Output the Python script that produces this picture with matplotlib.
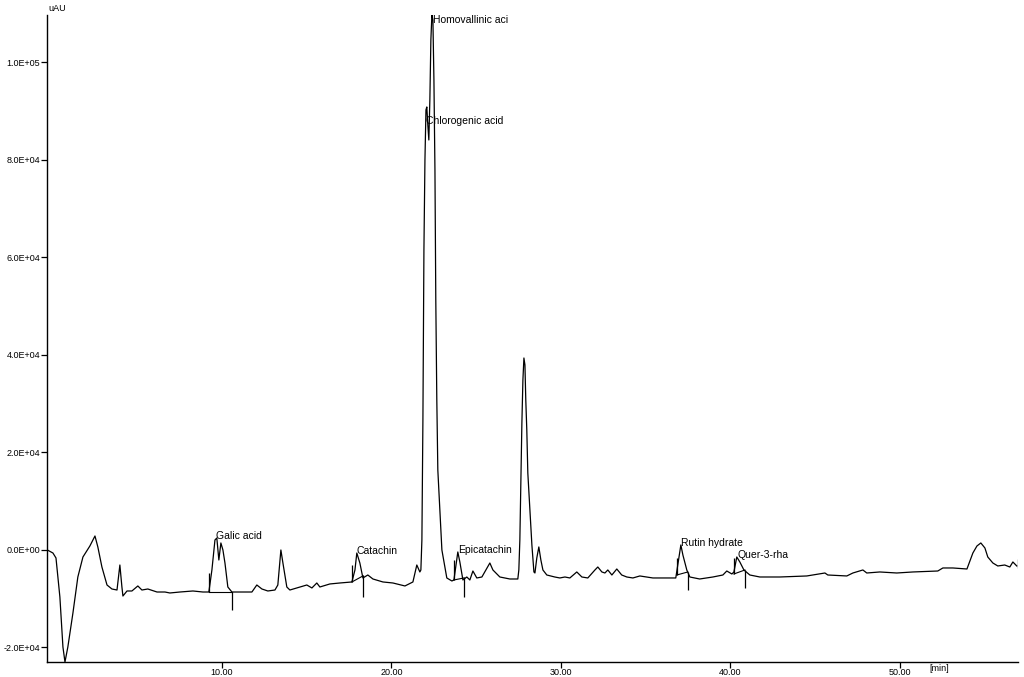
import numpy as np
import matplotlib
matplotlib.use('Agg')
import matplotlib.pyplot as plt
from matplotlib.ticker import FuncFormatter

plt.rcParams['font.family'] = ['Liberation Sans', 'DejaVu Sans']

# chromatogram trace (time in min, signal in uAU)
time_min = [
    -0.30, 0.03, 0.21, 0.44, 0.62, 0.74, 0.91, 1.21, 1.50, 1.80, 2.21, 2.51, 2.68, 2.92, 3.22,
    3.51, 3.81, 3.98, 4.10, 4.16, 4.40, 4.69, 5.04, 5.28, 5.63, 6.17, 6.64, 6.93, 7.52, 8.29,
    8.88, 9.23, 9.41, 9.59, 9.70, 9.82, 9.94, 10.06, 10.18, 10.35, 10.59, 11.06, 11.77, 12.06, 12.36,
    12.71, 13.13, 13.30, 13.48, 13.60, 13.83, 14.01, 14.42, 15.01, 15.31, 15.60, 15.78, 16.37, 16.96, 17.67,
    17.85, 17.96, 18.14, 18.32, 18.61, 18.91, 19.50, 20.09, 20.80, 21.27, 21.50, 21.68, 21.74, 21.80, 21.86,
    21.92, 21.98, 22.04, 22.09, 22.15, 22.21, 22.27, 22.33, 22.39, 22.45, 22.51, 22.57, 22.62, 22.68, 22.74,
    22.86, 22.98, 23.27, 23.57, 23.69, 23.81, 23.92, 24.04, 24.22, 24.45, 24.63, 24.81, 25.04, 25.34, 25.81,
    25.99, 26.40, 26.99, 27.46, 27.52, 27.58, 27.64, 27.70, 27.76, 27.82, 27.88, 27.93, 27.99, 28.05, 28.17,
    28.29, 28.41, 28.47, 28.58, 28.70, 28.82, 28.94, 29.17, 29.64, 29.94, 30.24, 30.53, 30.94, 31.24, 31.59,
    32.01, 32.18, 32.42, 32.60, 32.77, 33.01, 33.30, 33.59, 33.89, 34.25, 34.66, 35.07, 35.43, 35.84, 36.78,
    36.90, 37.08, 37.20, 37.43, 37.61, 38.19, 38.97, 39.56, 39.79, 40.09, 40.21, 40.38, 40.56, 40.80, 41.15,
    41.74, 42.92, 44.51, 45.58, 45.75, 46.87, 47.23, 47.82, 48.05, 48.82, 49.82, 50.77, 52.24, 52.54, 53.13,
    53.96, 54.31, 54.55, 54.78, 55.02, 55.19, 55.49, 55.78, 56.19, 56.49, 56.67, 56.90]
signal_uau = [
    0, -620, -1640, -9640, -19900, -22970, -19900, -12920, -5540, -1440, 820, 2870, 620, -3490, -7180,
    -8000, -8210, -3080, -7590, -9440, -8410, -8410, -7380, -8210, -8000, -8620, -8620, -8820, -8620, -8410,
    -8620, -8620, -4100, 2050, 2460, -2050, 1440, 0, -2670, -7590, -8620, -8620, -8620, -7180, -8000,
    -8410, -8210, -7180, 0, -2670, -7590, -8210, -7790, -7180, -7790, -6770, -7590, -6970, -6770, -6560,
    -4100, -620, -2670, -5740, -5130, -5950, -6560, -6770, -7380, -6560, -3080, -4510, -4100, 2050, 26670,
    61540, 80000, 90260, 90870, 87180, 84100, 92310, 104620, 109740, 108720, 96410, 77950, 51280, 30770, 16410,
    8210, 0, -5740, -6360, -6150, -3080, -410, -2460, -6150, -5540, -6150, -4310, -5740, -5540, -2670,
    -4100, -5540, -5950, -5950, -4100, 2050, 14360, 26050, 34870, 39380, 37950, 30770, 24620, 15800, 8210,
    1030, -4510, -4720, -1640, 620, -2050, -4100, -5130, -5540, -5740, -5540, -5740, -4510, -5540, -5740,
    -4100, -3490, -4510, -4720, -4100, -5130, -3900, -5130, -5540, -5740, -5330, -5540, -5740, -5740, -5740,
    -3080, 1030, -1030, -4100, -5540, -5950, -5540, -5130, -4310, -4920, -4510, -1440, -2460, -4100, -5130,
    -5540, -5540, -5330, -4720, -5130, -5330, -4720, -4100, -4720, -4510, -4720, -4510, -4310, -3690, -3690,
    -3900, -620, 820, 1440, 410, -1440, -2670, -3280, -3080, -3490, -2460, -3280]

# peak names and label anchor points
peak_names = ['Galic acid', 'Catachin', 'Chlorogenic acid', 'Homovallinic aci',
              'Epicatachin', 'Rutin hydrate', 'Quer-3-rha']
label_t = [9.65, 17.96, 22.04, 22.45, 23.92, 37.08, 40.44]
label_v = [2870, -200, 88000, 108700, 0, 1440, -1030]

# integration markers: time, low, high
marker_t = [9.23, 10.59, 17.67, 18.32, 23.69, 24.28, 36.84, 37.49, 40.21, 40.86, 56.98]
marker_lo = [-8620, -12310, -6560, -9640, -6150, -9640, -5130, -8210, -4920, -7790, -3690]
marker_hi = [-4720, -8620, -3080, -5130, -2050, -5540, -1640, -4510, -1640, -4100, -1850]

# baselines under the integrated peaks
base_t0 = [9.23, 17.67, 23.69, 36.84, 40.21]
base_v0 = [-8620, -6560, -6150, -5130, -4920]
base_t1 = [10.59, 18.32, 24.28, 37.49, 40.86]
base_v1 = [-8620, -5330, -5740, -4510, -4100]

yticks = [-20000, 0, 20000, 40000, 60000, 80000, 100000]
xticks = [10, 20, 30, 40, 50]


def sci(v, p):
    if v == 0:
        return '0.0E+00'
    e = int(np.floor(np.log10(abs(v))))
    return '%.1fE%+03d' % (v / 10 ** e, e)


fig = plt.figure(figsize=(10.24, 6.77), dpi=100)
ax = fig.add_axes([0.0459, 0.0222, 0.9482, 0.9557])

ax.plot(time_min, signal_uau, color='black', lw=0.9)
ax.vlines(marker_t, marker_lo, marker_hi, color='black', lw=0.9)
for a, b, c, d in zip(base_t0, base_v0, base_t1, base_v1):
    ax.plot([a, c], [b, d], color='black', lw=0.8)

for name, t, v in zip(peak_names, label_t, label_v):
    ax.text(t, v, name, fontsize=7.5, ha='left', va='center', color='black')

ax.set_xlim(-0.32, 56.97)
ax.set_ylim(-22970, 109740)

ax.spines['top'].set_visible(False)
ax.spines['right'].set_visible(False)
ax.spines['left'].set_linewidth(1.0)
ax.spines['bottom'].set_linewidth(1.0)

ax.set_yticks(yticks)
ax.yaxis.set_major_formatter(FuncFormatter(sci))
ax.set_xticks(xticks)
ax.set_xticklabels(['%.2f' % x for x in xticks])
ax.tick_params(axis='both', labelsize=6.5, length=4, width=0.9, pad=1, direction='out')
ax.tick_params(axis='x', pad=0.5)

fig.text(0.047, 0.988, 'uAU', fontsize=6.5, ha='left', va='center')
fig.text(0.908, 0.013, '[min]', fontsize=6.5, ha='left', va='center')

plt.savefig('out.png', dpi=100)
